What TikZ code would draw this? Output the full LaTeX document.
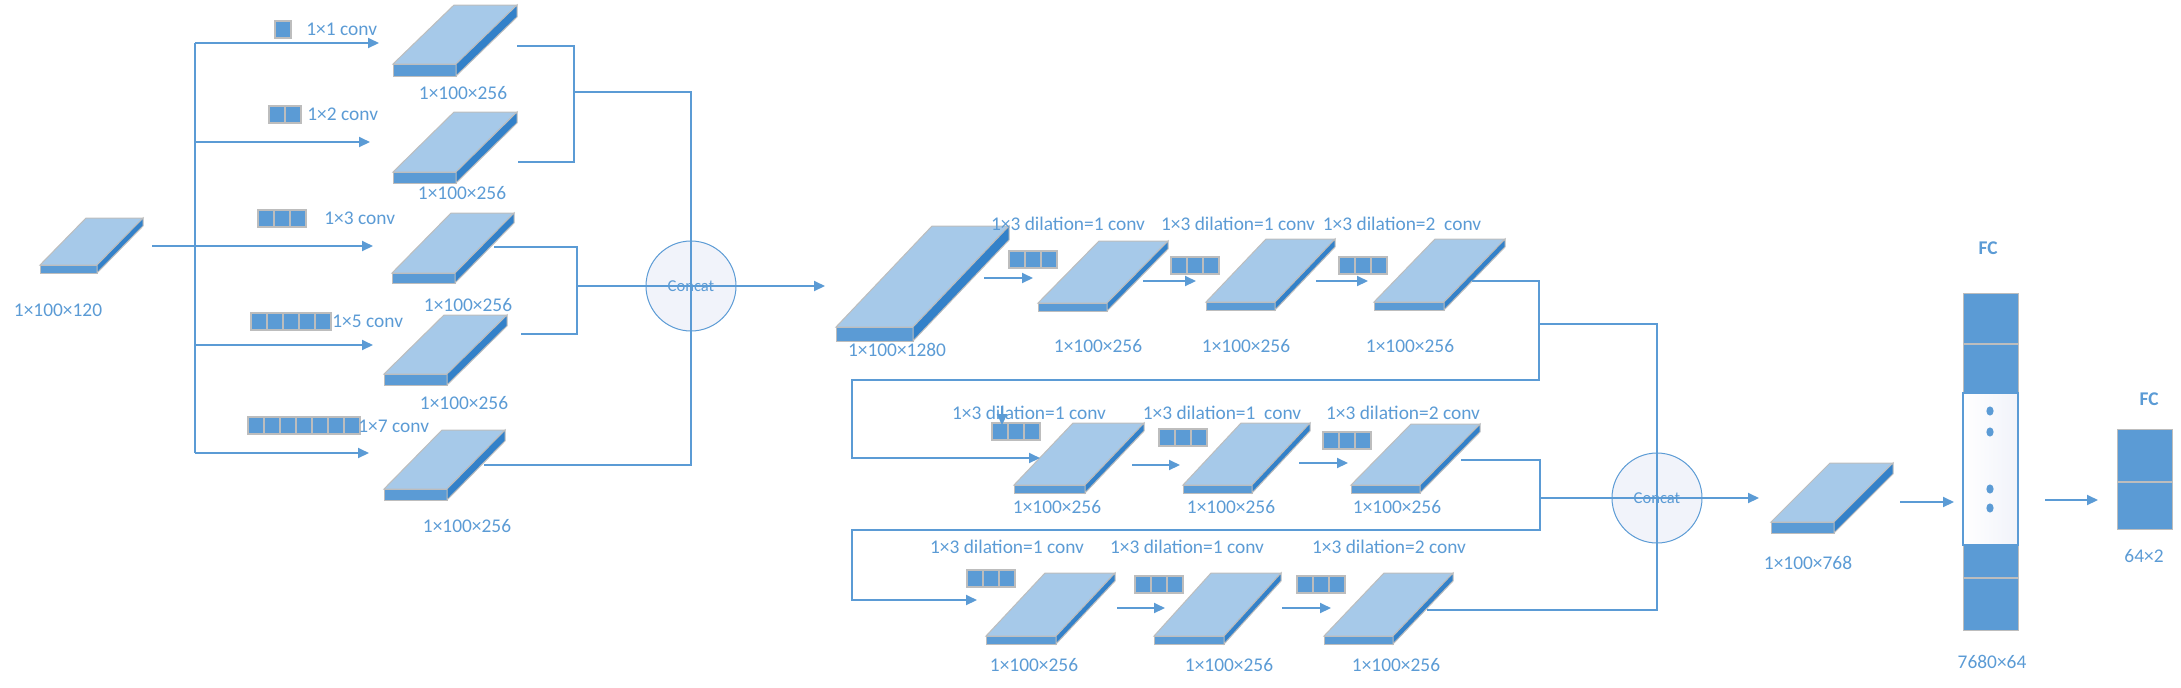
\documentclass[tikz,border=0pt]{standalone}
\usepackage{fontspec}
\setmainfont{Carlito}
\usetikzlibrary{arrows.meta}
\definecolor{topc}{HTML}{A6C9E9}
\definecolor{frontc}{HTML}{5B9BD5}
\definecolor{sidec}{HTML}{3381C9}
\definecolor{edgec}{HTML}{BDBDBD}
\definecolor{linec}{HTML}{5B9BD5}
\definecolor{txtc}{HTML}{5B9BD5}
\definecolor{circc}{HTML}{F1F3FA}
\newcommand{\myslab}[6]{%
 \filldraw[fill=topc,draw=edgec,line width=0.5pt] (#1,#2) -- ++(#5,-#6) -- ++(#3,0) -- ++(-#5,#6) -- cycle;
 \filldraw[fill=frontc,draw=edgec,line width=0.5pt] (#1,#2) rectangle ++(#3,#4);
 \filldraw[fill=sidec,draw=edgec,line width=0.5pt] (#1,#2) ++(#3,0) -- ++(#5,-#6) -- ++(0,#4) -- ++(-#5,#6) -- cycle;
}
\newcommand{\mycells}[3]{\foreach \i in {1,...,#3}{\filldraw[fill=frontc,draw=edgec,line width=0.6pt] ({#1+16*(\i-1)},#2) rectangle ++(16,17);}}
\tikzset{
 conn/.style={draw=linec,line width=1pt},
 arr/.style={conn,-{Triangle[length=5.5pt,width=5pt]}},
 lbl/.style={text=txtc,font=\fontsize{9.7}{11}\selectfont,inner sep=0pt},
 cat/.style={circle,draw=linec,line width=0.5pt,fill=circc,minimum size=45pt,inner sep=0pt,text=txtc,font=\fontsize{8.3}{10}\selectfont},
 fcl/.style={text=txtc,font=\fontsize{9.7}{11}\selectfont\bfseries,inner sep=0pt}
}
\begin{document}
\begin{tikzpicture}[x=0.5pt,y=-0.5pt]
\useasboundingbox (0,0) rectangle (2181,687);
% ---------- slabs ----------
\myslab{40}{265}{57}{8}{46}{47}
\myslab{393}{64}{63}{12}{61}{59}
\myslab{393}{172}{63}{11}{61}{60}
\myslab{392}{273}{63}{10}{59}{60}
\myslab{384}{374}{63}{11}{60}{59}
\myslab{384}{489}{63}{11}{58}{59}
\myslab{836}{327}{77}{14}{96}{101}
\myslab{1038}{303}{69}{8}{61}{62}
\myslab{1206}{302}{69}{8}{60}{63}
\myslab{1374}{302}{70}{8}{61}{63}
\myslab{1014}{485}{71}{8}{59}{62}
\myslab{1183}{485}{69}{8}{58}{62}
\myslab{1351}{485}{69}{8}{60}{61}
\myslab{986}{636}{70}{8}{59}{63}
\myslab{1154}{636}{70}{8}{57}{63}
\myslab{1324}{636}{69}{8}{60}{63}
\myslab{1771}{522}{63}{11}{59}{59}
% ---------- kernel cells ----------
\mycells{275}{21}{1}
\mycells{269}{106}{2}
\mycells{258}{210}{3}
\mycells{251}{313}{5}
\mycells{248}{417}{7}
\mycells{1009}{251}{3}
\mycells{1171}{257}{3}
\mycells{1339}{257}{3}
\mycells{992}{423}{3}
\mycells{1159}{429}{3}
\mycells{1323}{432}{3}
\mycells{967}{570}{3}
\mycells{1135}{576}{3}
\mycells{1297}{576}{3}
% ---------- concat circles ----------
\node[cat] (cc1) at (691,286) {Concat};
\node[cat] (cc2) at (1657,498) {Concat};
% ---------- coordinates ----------
\coordinate (inO) at (152,246);
\coordinate (trT) at (195,43);
\coordinate (trB) at (195,453);
\coordinate (a1) at (379,43);
\coordinate (a2) at (370,142);
\coordinate (a3) at (373,246);
\coordinate (a4) at (373,345);
\coordinate (a5) at (369,453);
\coordinate (b1o) at (517,46);
\coordinate (b2o) at (518,162);
\coordinate (b3o) at (494,247);
\coordinate (b4o) at (521,334);
\coordinate (b5o) at (484,465);
\coordinate (bigI) at (825,286);
\coordinate (d13o) at (1472,281);
\coordinate (d23o) at (1461,460);
\coordinate (d33o) at (1427,610);
\coordinate (d21i) at (1040,458);
\coordinate (d31i) at (977,600);
\coordinate (fI) at (1759,498);
% ---------- left connectors ----------
\draw[conn] (trT) -- (trB);
\draw[arr] (trT) -- (a1);
\draw[arr] (195,142) -- (a2);
\draw[arr] (inO) -- (a3);
\draw[arr] (195,345) -- (a4);
\draw[arr] (trB) -- (a5);
\draw[conn] (b1o) -- (574,46) -- (574,162) -- (b2o);
\draw[conn] (574,92) -- (691,92) -- (691,465) -- (b5o);
\draw[conn] (b3o) -- (577,247) -- (577,334) -- (b4o);
\draw[arr] (577,286) -- (bigI);
% ---------- middle connectors ----------
\draw[arr] (984,278) -- (1033,278);
\draw[arr] (1143,281) -- (1196,281);
\draw[arr] (1316,281) -- (1368,281);
\draw[arr] (d13o) -- (1539,281) -- (1539,380) -- (852,380) -- (852,458) -- (d21i);
\draw[conn] (1539,324) -- (1657,324) -- (1657,610) -- (d33o);
\draw[arr] (1002,406) -- (1002,425);
\draw[arr] (1132,465) -- (1180,465);
\draw[arr] (1299,463) -- (1348,463);
\draw[arr] (d23o) -- (1540,460) -- (1540,530) -- (852,530) -- (852,600) -- (d31i);
\draw[arr] (1117,608) -- (1165,608);
\draw[arr] (1282,608) -- (1331,608);
\draw[arr] (1540,498) -- (fI);
% ---------- right part ----------
\coordinate (fO) at (1900,502);
\coordinate (fcI) at (1954,502);
\draw[arr] (fO) -- (fcI);
\fill[frontc] (1963,293) rectangle (2018,393);
\fill[frontc] (1963,545) rectangle (2018,630);
\draw[edgec,line width=0.6pt] (1963,344) -- (2018,344);
\draw[edgec,line width=0.6pt] (1963,578) -- (2018,578);
\draw[edgec,line width=0.5pt] (1963,393) -- (1963,293) -- (2018,293) -- (2018,393);
\draw[edgec,line width=0.5pt] (1963,545) -- (1963,630) -- (2018,630) -- (2018,545);
\shade[left color=white,right color=circc] (1963,393) rectangle (2018,545);
\draw[linec,line width=0.6pt] (1963,393) rectangle (2018,545);
\foreach \yy in {411,432,489,508}{\fill[frontc] (1990,\yy) ellipse [x radius=1.8pt,y radius=2.3pt];}
\coordinate (fcO) at (2045,500);
\coordinate (fc2I) at (2098,500);
\draw[arr] (fcO) -- (fc2I);
\filldraw[fill=frontc,draw=edgec,line width=0.5pt] (2117,429) rectangle (2172,529);
\draw[edgec,line width=0.6pt] (2117,482) -- (2172,482);
% ---------- labels ----------
\node[lbl,anchor=west] (t1) at (306,29) {1×1 conv};
\node[lbl,anchor=west] (t2) at (307,114) {1×2 conv};
\node[lbl,anchor=west] (t3) at (324,218) {1×3 conv};
\node[lbl,anchor=west] (t5) at (332,321) {1×5 conv};
\node[lbl,anchor=west] (t7) at (358,426) {1×7 conv};
\node[lbl] (sin) at (58,310) {1×100×120};
\node[lbl] (s1) at (463,93) {1×100×256};
\node[lbl] (s2) at (462,193) {1×100×256};
\node[lbl] (s3) at (468,305) {1×100×256};
\node[lbl] (s4) at (464,403) {1×100×256};
\node[lbl] (s5) at (467,526) {1×100×256};
\node[lbl] (sbig) at (897,350) {1×100×1280};
\node[lbl] (r11) at (1068,224) {1×3 dilation=1 conv};
\node[lbl] (r12) at (1238,224) {1×3 dilation=1 conv};
\node[lbl] (r13) at (1402,224) {1×3 dilation=2\ \ conv};
\node[lbl] (s11) at (1098,346) {1×100×256};
\node[lbl] (s12) at (1246,346) {1×100×256};
\node[lbl] (s13) at (1410,346) {1×100×256};
\node[lbl] (r21) at (1029,413) {1×3 dilation=1 conv};
\node[lbl] (r22) at (1222,413) {1×3 dilation=1\ \ conv};
\node[lbl] (r23) at (1403,413) {1×3 dilation=2 conv};
\node[lbl] (s21) at (1057,507) {1×100×256};
\node[lbl] (s22) at (1231,507) {1×100×256};
\node[lbl] (s23) at (1397,507) {1×100×256};
\node[lbl] (r31) at (1007,547) {1×3 dilation=1 conv};
\node[lbl] (r32) at (1187,547) {1×3 dilation=1 conv};
\node[lbl] (r33) at (1389,547) {1×3 dilation=2 conv};
\node[lbl] (s31) at (1034,665) {1×100×256};
\node[lbl] (s32) at (1229,665) {1×100×256};
\node[lbl] (s33) at (1396,665) {1×100×256};
\node[lbl] (sf) at (1808,563) {1×100×768};
\node[fcl] (fc1) at (1988,248) {FC};
\node[lbl] (sfc1) at (1992,662) {7680×64};
\node[fcl] (fc2) at (2149,399) {FC};
\node[lbl] (sfc2) at (2144,556) {64×2};
\end{tikzpicture}
\end{document}
